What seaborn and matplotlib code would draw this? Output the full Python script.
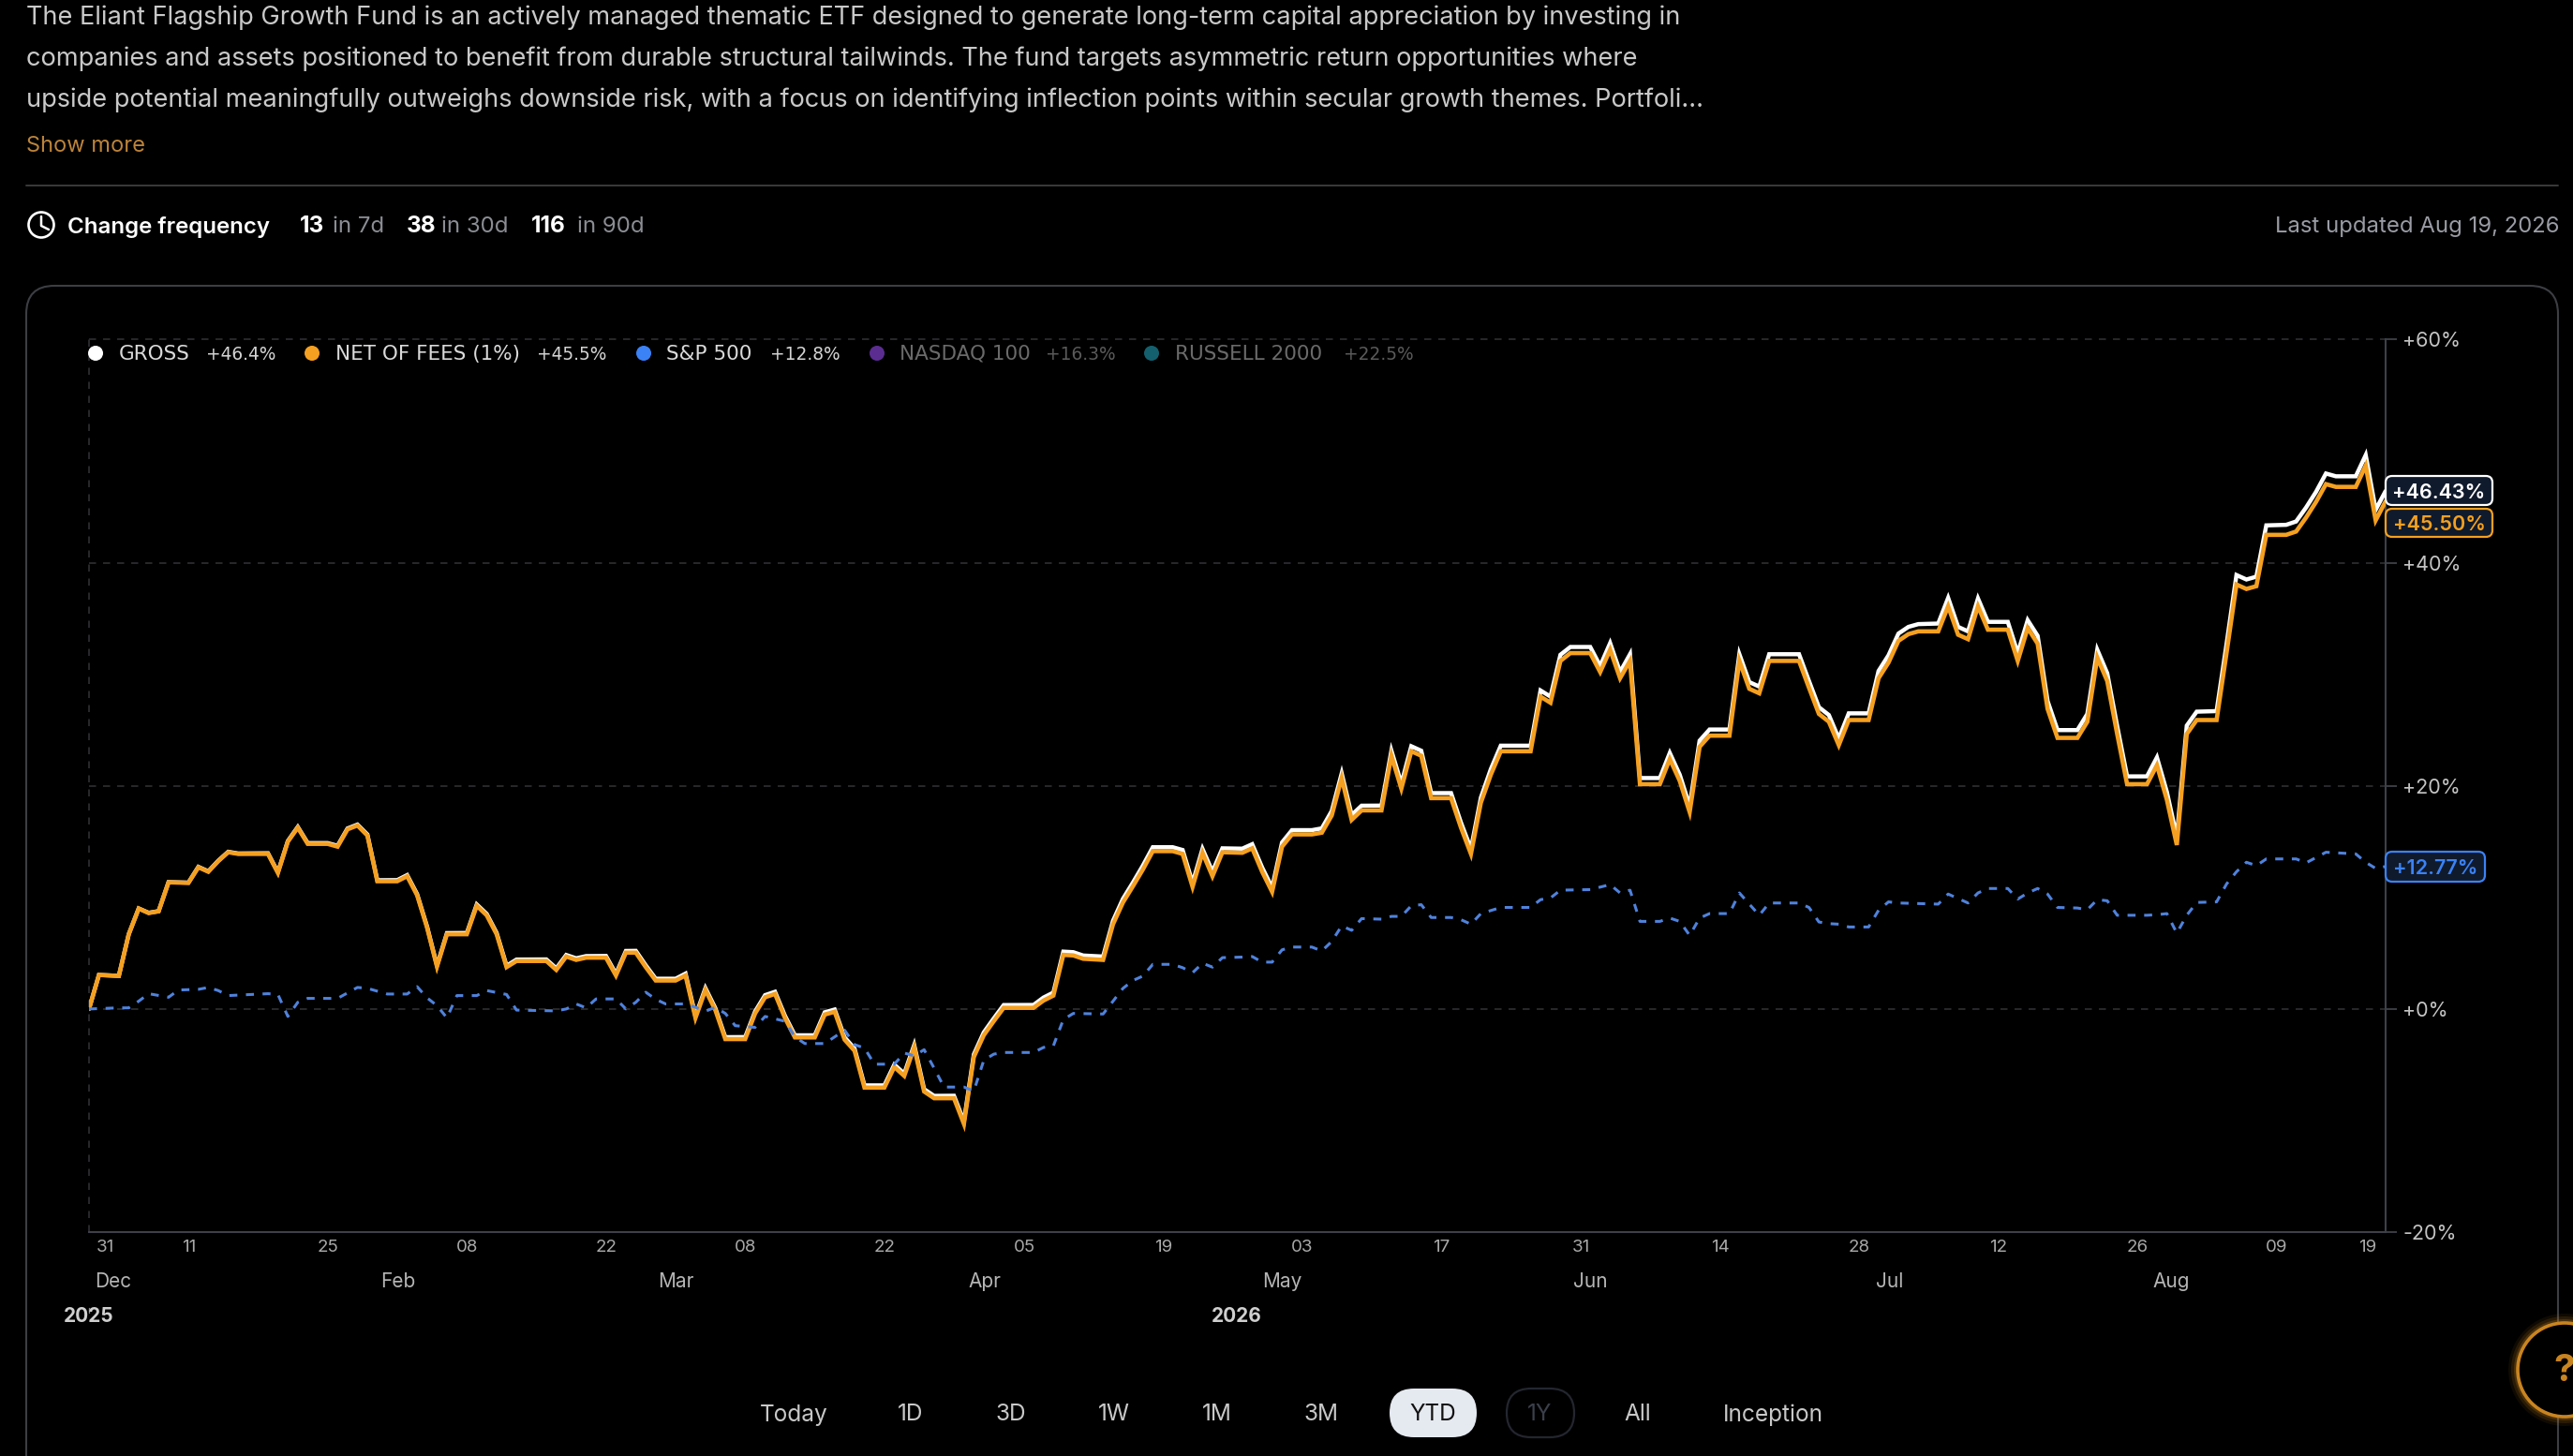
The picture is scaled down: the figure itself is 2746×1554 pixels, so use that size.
import matplotlib
matplotlib.use("Agg")
import matplotlib.pyplot as plt
from matplotlib.patches import FancyBboxPatch, Circle
from matplotlib.transforms import ScaledTranslation
import seaborn as sns

W, H = 2746, 1554
BG = "#000000"

net_days = [0,1,3,4,5,6,7,8,10,11,12,13,14,15,18,19,20,21,22,24,25,26,27,28,29,31,32,33,34,35,36,38,39,40,41,42,43,46,47,48,49,50,52,53,54,55,56,57,59,60,
            61,62,63,64,66,67,68,69,70,71,73,74,75,76,77,78,80,81,82,83,84,85,87,88,89,90,91,92,95,96,97,98,99,100,102,103,104,105,106,107,109,110,111,112,113,114,116,117,118,119,
            120,121,123,124,125,126,127,128,130,131,132,133,134,135,137,138,139,140,141,142,145,146,147,148,149,151,152,153,154,155,156,158,159,160,161,162,163,165,166,167,168,169,172,173,174,175,
            176,177,179,180,181,182,183,184,186,187,188,189,190,191,193,194,195,196,197,198,200,201,202,203,204,205,207,208,209,210,211,212,214,215,216,217,218,219,221,222,223,224,225,226,228,229,230,231]
net_vals = [0,3.05,2.96,6.7,9.0,8.6,8.75,11.35,11.3,12.7,12.3,13.25,14.05,13.9,13.9,12.2,15,16.25,14.8,14.8,14.55,16.1,16.45,15.55,11.45,11.45,11.9,10.2,7.3,3.8,6.7,6.7,9.25,8.4,6.7,3.75,4.3,4.3,3.5,4.7,4.4,4.6,4.6,3.0,5.05,5.05,3.75,2.55,2.55,3.0,
            -0.8,1.7,-0.1,-2.7,-2.7,-0.4,1.05,1.35,-0.8,-2.55,-2.55,-0.5,-0.25,-2.75,-3.75,-7.05,-7.05,-5.2,-6,-3.45,-7.4,-8,-8,-10.3,-4.3,-2.35,-1.1,0.1,0.1,0.75,1.2,4.85,4.8,4.5,4.4,7.6,9.55,11,12.5,14.15,14.15,13.9,10.95,14,11.9,14.05,14,14.4,12.3,10.5,
            14.55,15.65,15.65,15.8,17.35,20.7,16.95,17.8,17.8,22.7,19.75,23.1,22.7,18.9,18.9,16.25,13.9,18.5,21,23.1,23.1,28,27.45,31.2,31.9,31.9,30.2,32.2,29.65,31.2,20.15,20.15,22.4,20.45,17.65,23.5,24.5,24.5,31.2,28.7,28.3,31.2,31.2,28.8,26.45,25.75,
            23.65,25.9,25.9,29.65,31.05,33,33.6,33.85,33.85,36.1,33.55,33.15,36.1,34,34,31.2,34.15,32.75,26.9,24.3,24.3,25.75,31.5,29.4,24.65,20.15,20.15,21.85,18.75,14.7,24.65,25.9,25.9,31.9,38.05,37.65,37.9,42.5,42.5,42.8,44.05,45.45,47.05,46.8,46.8,48.7,43.8,45.5]
gross_vals = [0,3.05,2.97,6.71,9.01,8.62,8.77,11.37,11.33,12.74,12.34,13.29,14.09,13.94,13.96,12.26,15.06,16.32,14.87,14.87,14.63,16.18,16.53,15.64,11.54,11.55,12.0,10.3,7.4,3.9,6.8,6.81,9.37,8.52,6.82,3.87,4.43,4.44,3.64,4.84,4.54,4.74,4.75,3.15,5.2,5.21,3.91,2.71,2.71,3.17,
              -0.63,1.87,0.07,-2.53,-2.52,-0.22,1.24,1.54,-0.61,-2.36,-2.36,-0.3,-0.05,-2.55,-3.55,-6.85,-6.85,-4.99,-5.79,-3.23,-7.19,-7.79,-7.78,-10.08,-4.07,-2.1,-0.85,0.35,0.36,1.02,1.47,5.14,5.09,4.79,4.7,7.91,9.88,11.33,12.85,14.5,14.5,14.25,11.3,14.35,12.3,14.4,14.37,14.77,12.68,10.87,
              14.93,16.03,16.03,16.19,17.75,21.12,17.38,18.22,18.23,23.15,20.2,23.55,23.15,19.35,19.35,16.7,14.35,18.95,21.5,23.6,23.6,28.55,28,31.75,32.45,32.45,30.75,32.8,30.2,31.8,20.7,20.7,22.95,21.0,18.2,24.05,25.05,25.05,31.8,29.3,28.9,31.8,31.8,29.4,27.05,26.35,
              24.25,26.5,26.5,30.3,31.7,33.65,34.25,34.5,34.55,36.85,34.25,33.85,36.8,34.7,34.7,31.9,34.85,33.45,27.6,25,25,26.45,32.2,30.1,25.35,20.85,20.85,22.55,19.45,15.4,25.4,26.65,26.7,32.7,38.9,38.5,38.75,43.35,43.4,43.7,44.95,46.35,48.0,47.75,47.75,49.65,44.75,46.43]
spx_days = [0,3,4,5,6,8,9,11,12,13,14,18,19,20,21,22,25,27,28,30,32,33,34,35,36,37,39,40,42,43,47,48,49,50,51,53,54,55,56,57,58,60,61,62,63,64,65,67,68,70,71,72,74,75,76,77,78,79,81,82,83,84,85,86,88,89,90,91,92,95,96,97,98,99,102,103,104,105,106,107,109,110,111,112,113,114,116,117,118,119,120,121,123,124,125,126,127,128,130,131,132,133,134,135,137,138,139,140,142,145,146,147,148,151,153,154,155,156,158,159,160,161,162,163,165,166,167,168,169,172,173,174,175,176,177,179,180,181,182,186,187,188,189,190,191,193,194,195,196,197,198,200,201,202,203,204,207,208,209,210,211,212,214,215,216,217,218,219,222,223,225,228,229,230,231]
spx_vals = [0,0.1,0.1,0.7,1.37,1.05,1.7,1.76,1.93,1.65,1.2,1.37,1.3,-0.67,0.6,0.95,0.95,1.93,1.85,1.34,1.34,2,1,0.3,-0.8,1.2,1.2,1.65,1.3,-0.1,-0.17,0,0.45,0.1,0.9,0.9,0,0.6,1.5,0.87,0.45,0.45,0.15,-0.2,0.15,-0.4,-1.5,-1.65,-0.67,-1.1,-2.5,-3.1,-3.1,-2.5,-1.9,-3.2,-3.5,-4.95,-4.95,-3.95,-4.2,-3.65,-5.3,-7,-7,-7.35,-4.6,-4.05,-3.9,-3.9,-3.45,-3.3,-0.95,-0.4,-0.45,0.7,1.85,2.55,2.95,4,4,3.7,3.25,4.1,3.75,4.6,4.65,4.7,4.2,4.2,5.3,5.55,5.55,5.2,6.05,7.45,7.05,8.1,8.05,8.3,8.3,9.25,9.35,8.2,8.2,8,7.6,8.55,9.1,9.1,9.8,9.95,10.65,10.7,11.15,10.4,10.65,7.85,7.85,8.15,7.85,6.6,8.15,8.55,8.55,10.4,9.4,8.4,9.5,9.5,9.1,7.8,7.65,7.6,7.35,7.35,8.85,9.6,9.5,9.4,10.3,9.9,9.5,10.4,10.8,10.8,9.85,10.4,10.8,10.3,9.1,9.05,8.9,9.8,9.7,8.4,8.4,8.45,8.55,6.8,8.4,9.55,9.6,11.2,12.3,13.15,12.85,13.45,13.45,13.1,14.05,13.9,13.15,12.6,12.77]

y_ticks = [-20, 0, 20, 40, 60]
y_labels = ["-20%", "+0%", "+20%", "+40%", "+60%"]
x_ticks = [0,11,25,39,53,67,81,95,109,123,137,151,165,179,193,207,221,231]
x_labels = ["31","11","25","08","22","08","22","05","19","03","17","31","14","28","12","26","09","19"]
x_offsets = [17,-10,-10,-10,-10,-10,-10,-10,-10,-10,-10,-10,-10,-10,-10,-10,-10,-19]
months = ["Dec","Feb","Mar","Apr","May","Jun","Jul","Aug"]
month_x = [121,425,721,1051,1368,1697,2017,2317]
years = ["2025","2026"]
year_x = [95,1320]
description = [
    "The Eliant Flagship Growth Fund is an actively managed thematic ETF designed to generate long-term capital appreciation by investing in",
    "companies and assets positioned to benefit from durable structural tailwinds. The fund targets asymmetric return opportunities where",
    "upside potential meaningfully outweighs downside risk, with a focus on identifying inflection points within secular growth themes. Portfoli...",
]
legend_names = ["GROSS", "NET OF FEES (1%)", "S&P 500", "NASDAQ 100", "RUSSELL 2000"]
legend_values = ["+46.4%", "+45.5%", "+12.8%", "+16.3%", "+22.5%"]
legend_colors = ["#ffffff", "#f5a020", "#3b82f6", "#5b2d91", "#14606e"]
legend_dot_x = [102, 333, 687, 936, 1229]
legend_name_x = [127, 358, 711, 960, 1254]
legend_val_x = [220, 573, 822, 1116, 1434]
legend_name_col = ["#dadada", "#dadada", "#dadada", "#6a6a6a", "#6a6a6a"]
legend_val_col = ["#d4d4d4", "#d4d4d4", "#d4d4d4", "#5a5a5a", "#5a5a5a"]
ranges = ["Today","1D","3D","1W","1M","3M","YTD","1Y","All","Inception"]
range_x = [847,972,1079,1189,1299,1410,1529,1643,1748,1892]
end_labels = ["+46.43%","+45.50%","+12.77%"]

sns.set_theme(style="dark", rc={"axes.facecolor": BG, "figure.facecolor": BG})
plt.rcParams["font.family"] = ["Inter", "DejaVu Sans"]

fig = plt.figure(figsize=(W/100, H/100), dpi=100, facecolor=BG)
ax = fig.add_axes([95/W, 1-1315/H, (2546-95)/W, (1315-362.5)/H], facecolor=BG)

sns.lineplot(x=net_days, y=gross_vals, ax=ax, color="#ffffff", linewidth=3.2, estimator=None, sort=False,
             solid_joinstyle="miter", zorder=3)
sns.lineplot(x=net_days, y=net_vals, ax=ax, color="#f5a020", linewidth=3.3, estimator=None, sort=False,
             solid_joinstyle="miter", zorder=4)
sns.lineplot(x=spx_days, y=spx_vals, ax=ax, color="#4f82dc", linewidth=2.2, estimator=None, sort=False,
             linestyle=(0, (2.8, 3.0)), zorder=5)

ax.set_xlim(0, 231)
ax.set_ylim(-20, 60)
ax.set_xlabel("")
ax.set_ylabel("")
for s in ["top", "left"]:
    ax.spines[s].set_visible(False)
for s in ["bottom", "right"]:
    ax.spines[s].set_visible(True)
    ax.spines[s].set_color("#3d4048")
    ax.spines[s].set_linewidth(1.5)
ax.yaxis.tick_right()
ax.set_yticks(y_ticks)
ax.set_yticklabels(y_labels)
ax.tick_params(axis="y", length=8.5, width=1.2, color="#44474f", pad=4.5, labelsize=15.5, labelcolor="#c4c4c4")
ax.set_xticks(x_ticks)
ax.set_xticklabels(x_labels)
ax.tick_params(axis="x", length=0, pad=6, labelsize=13.5, labelcolor="#a9a9a9")
for lab, off in zip(ax.get_xticklabels(), x_offsets):
    lab.set_transform(lab.get_transform() + ScaledTranslation(off/100, 0, fig.dpi_scale_trans))
ax.grid(True, axis="y", color="#303033", linewidth=1.2, linestyle=(0, (4.5, 4.5)), zorder=1)
ax.grid(False, axis="x")
for gl in ax.get_ygridlines():
    gl.set_clip_on(False)
ax.axvline(0, color="#303033", linewidth=1.2, linestyle=(0, (4.5, 4.5)), zorder=1, clip_on=False)

ui = fig.add_axes([0, 0, 1, 1], zorder=10)
ui.set_xlim(0, W)
ui.set_ylim(H, 0)
ui.axis("off")
ui.patch.set_alpha(0)

for i, line in enumerate(description):
    ui.text(28, 19 + i*43.7, line, fontsize=19.55, color="#c9c9c9", va="center", ha="left")
ui.text(28, 156, "Show more", fontsize=17.0, color="#bd843a", va="center")
ui.plot([28, 2730], [198, 198], color="#3a3a3c", lw=1.4)

ui.add_patch(Circle((44, 240), 13.5, fill=False, ec="#ffffff", lw=1.9))
ui.plot([44, 44, 52], [231, 241, 245], color="#ffffff", lw=1.8)
ui.text(72, 242, "Change frequency", fontsize=17.3, color="#ffffff", weight="semibold", va="center")
for xx, t in zip([320, 434, 567], ["13", "38", "116"]):
    ui.text(xx, 242, t, fontsize=17.6, color="#ffffff", weight="bold", va="center")
for xx, t in zip([355, 471, 616], ["in 7d", "in 30d", "in 90d"]):
    ui.text(xx, 242, t, fontsize=17.3, color="#8b8d94", va="center")
ui.text(2731, 242, "Last updated Aug 19, 2026", fontsize=17.2, color="#9a9ca5", va="center", ha="right")

card = FancyBboxPatch((28, 305), 2702, 1400, boxstyle="round,pad=0,rounding_size=30", fc="none", ec="#3c3e44", lw=1.5, clip_on=True)
ui.add_patch(card)

for i in range(5):
    ui.add_patch(Circle((legend_dot_x[i], 377), 8, color=legend_colors[i], lw=0))
    ui.text(legend_name_x[i], 378, legend_names[i], fontsize=15.5, color=legend_name_col[i], va="center", family=["DejaVu Sans"])
    ui.text(legend_val_x[i], 378, legend_values[i], fontsize=13.4, color=legend_val_col[i], va="center", family=["DejaVu Sans"])

for m, xx in zip(months, month_x):
    ui.text(xx, 1368, m, fontsize=15, color="#b5b5b5", ha="center", va="center")
for yr, xx in zip(years, year_x):
    ui.text(xx, 1405, yr, fontsize=15, color="#cfcfcf", ha="center", va="center", weight="bold")
ui.plot([95, 95], [1396, 1401], color="#888888", lw=1)

# End-of-line value badges
for txt, y0, y1, x1, ec in zip(end_labels, [508, 543, 909], [539, 573, 941], [2660, 2660, 2652], ["#ffffff", "#f5a020", "#3b82f6"]):
    ui.add_patch(FancyBboxPatch((2546, y0), x1-2546, y1-y0, boxstyle="round,pad=0,rounding_size=7", fc="#0f1a2c", ec=ec, lw=1.6))
    ui.text((2546+x1)/2, (y0+y1)/2 + 2, txt, fontsize=15.5, color=("#ffffff" if ec == "#ffffff" else ec), weight="semibold", ha="center", va="center")

for r, xx in zip(ranges, range_x):
    if r == "YTD":
        ui.add_patch(FancyBboxPatch((1483, 1482), 93, 52, boxstyle="round,pad=0,rounding_size=26", fc="#e5e9f0", ec="none"))
        col = "#111111"
    elif r == "1Y":
        ui.add_patch(FancyBboxPatch((1608, 1482), 72, 52, boxstyle="round,pad=0,rounding_size=26", fc="none", ec="#23262f", lw=1.6))
        col = "#3a3f4a"
    else:
        col = "#c8c8c8"
    ui.text(xx, 1510, r, fontsize=17.6, color=col, ha="center", va="center")

for rr, al in zip([60, 57, 54], [0.08, 0.14, 0.22]):
    ui.add_patch(Circle((2737, 1462), rr, fc="#c98420", ec="none", alpha=al))
ui.add_patch(Circle((2737, 1462), 50, fc=BG, ec="#c98420", lw=2.6))
ui.text(2737, 1464, "?", fontsize=29, color="#c98420", weight="bold", ha="center", va="center")

fig.savefig("out.png", dpi=100, facecolor=BG)
